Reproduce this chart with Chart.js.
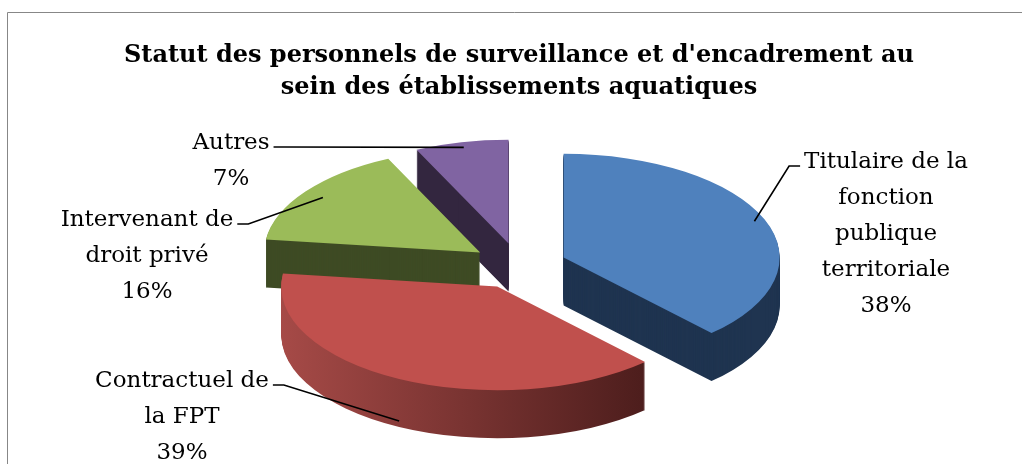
<!DOCTYPE html>
<html lang="fr">
<head>
    <meta charset="UTF-8">
    <title>Statut des personnels de surveillance et d'encadrement</title>
    <script src="https://cdn.jsdelivr.net/npm/chart.js"></script>
    <style>
        html, body { margin: 0; padding: 0; background: #fff; }
        #wrap { width: 1022px; height: 464px; }
    </style>
</head>
<body>
<div id="wrap"><canvas id="pieChart" width="1022" height="464"></canvas></div>
<script>
    // data
    const categories = ['Titulaire de la fonction publique territoriale', 'Contractuel de la FPT', 'Intervenant de droit privé', 'Autres'];
    const labelLines = [
        ['Titulaire de la', 'fonction', 'publique', 'territoriale'],
        ['Contractuel de', 'la FPT'],
        ['Intervenant de', 'droit privé'],
        ['Autres']
    ];
    const shares = [38, 39, 16, 7];
    const titleLines = ["Statut des personnels de surveillance et d'encadrement au", 'sein des établissements aquatiques'];

    // styles
    const topColors = ['#4F81BD', '#C0504D', '#9BBB59', '#8064A2'];
    const sideColors = ['#1F3450', ['#A64A47', '#4C1D1C'], '#3E4B24', '#33263F'];
    const serif = '"DejaVu Serif", "Liberation Serif", serif';

    function midAngle(arc) {
        return (arc.startAngle + arc.endAngle) / 2;
    }

    // thin grey frame (top and left edge of the original chart box)
    const frame = {
        id: 'frame',
        beforeDraw(chart) {
            const ctx = chart.ctx;
            ctx.save();
            ctx.strokeStyle = '#878787';
            ctx.lineWidth = 1;
            ctx.beginPath();
            ctx.moveTo(7.5, chart.height);
            ctx.lineTo(7.5, 12.5);
            ctx.lineTo(chart.width, 12.5);
            ctx.stroke();
            ctx.restore();
        }
    };

    // squashes the pie, explodes the slices and extrudes them downwards
    const pie3d = {
        id: 'pie3d',
        beforeDatasetsDraw(chart, args, opts) {
            const ctx = chart.ctx;
            const arcs = chart.getDatasetMeta(0).data;
            const cx = arcs[0].x, cy = arcs[0].y;
            const order = arcs.map((a, i) => i)
                .sort((a, b) => Math.sin(midAngle(arcs[a])) - Math.sin(midAngle(arcs[b])));

            order.forEach(i => {
                const arc = arcs[i];
                const m = midAngle(arc);
                const dx = Math.cos(m) * opts.explode;
                const dy = Math.sin(m) * opts.explode;
                for (let d = opts.depth; d >= 0; d--) {
                    ctx.save();
                    ctx.translate(cx, cy + d);
                    ctx.scale(1, opts.tilt);
                    ctx.translate(-cx + dx, -cy + dy);
                    let fill = arc.options.backgroundColor;
                    if (d > 0) {
                        const side = sideColors[i];
                        if (Array.isArray(side)) {
                            const r = arc.outerRadius;
                            fill = ctx.createLinearGradient(cx - r, 0, cx + 0.7 * r, 0);
                            fill.addColorStop(0, side[0]);
                            fill.addColorStop(1, side[1]);
                        } else {
                            fill = side;
                        }
                    }
                    const ghost = Object.create(arc);
                    ghost.options = Object.assign({}, arc.options, {backgroundColor: fill, borderWidth: 0});
                    ghost.draw(ctx);
                    ctx.restore();
                }
            });
            return false;
        }
    };

    // outside labels with leader lines
    const sliceLabels = {
        id: 'sliceLabels',
        afterDraw(chart, args, opts) {
            const ctx = chart.ctx;
            const arcs = chart.getDatasetMeta(0).data;
            const p3 = chart.options.plugins.pie3d;
            const cx = arcs[0].x, cy = arcs[0].y;
            ctx.save();
            ctx.font = opts.size + 'px ' + serif;
            ctx.fillStyle = '#000';
            ctx.textAlign = 'center';
            ctx.textBaseline = 'alphabetic';
            opts.boxes.forEach((box, i) => {
                const lines = labelLines[i].concat([shares[i] + '%']);
                lines.forEach((t, j) => ctx.fillText(t, box.x, box.y + j * opts.lineGap));

                const arc = arcs[i];
                const m = midAngle(arc);
                const len = p3.explode + arc.outerRadius * box.r;
                const ax = cx + Math.cos(m) * len;
                const ay = cy + box.d + Math.sin(m) * len * p3.tilt;
                const w = ctx.measureText(lines[0]).width;
                const sx = box.side === 'left' ? box.x - w / 2 - 4 : box.x + w / 2 + 4;
                const ex = box.side === 'left' ? sx - 11 : sx + 11;
                const ly = box.y - 2;
                ctx.strokeStyle = '#000';
                ctx.lineWidth = 1.6;
                ctx.beginPath();
                ctx.moveTo(sx, ly);
                ctx.lineTo(ex, ly);
                ctx.lineTo(ax, ay);
                ctx.stroke();
            });
            ctx.restore();
        }
    };

    new Chart(document.getElementById('pieChart'), {
        type: 'pie',
        data: {
            labels: categories,
            datasets: [{
                data: shares,
                backgroundColor: topColors,
                borderWidth: 0,
                radius: 216
            }]
        },
        options: {
            responsive: false,
            animation: false,
            events: [],
            layout: { padding: { left: 16, right: 0, top: 0, bottom: 36 } },
            plugins: {
                legend: { display: false },
                tooltip: { enabled: false },
                title: {
                    display: true,
                    text: titleLines,
                    color: '#000',
                    font: { family: serif, size: 24, weight: 'bold', lineHeight: 32 / 24 },
                    padding: { top: 40, bottom: 0 }
                },
                pie3d: { explode: 48, tilt: 0.48, depth: 48 },
                sliceLabels: {
                    size: 23,
                    lineGap: 36,
                    boxes: [
                        { x: 886, y: 168, side: 'left', r: 0.95, d: 0 },
                        { x: 182, y: 387, side: 'right', r: 1.0, d: 42 },
                        { x: 147, y: 226, side: 'right', r: 0.9, d: 0 },
                        { x: 231, y: 149, side: 'right', r: 0.95, d: 0 }
                    ]
                }
            }
        },
        plugins: [frame, pie3d, sliceLabels]
    });
</script>
</body>
</html>
